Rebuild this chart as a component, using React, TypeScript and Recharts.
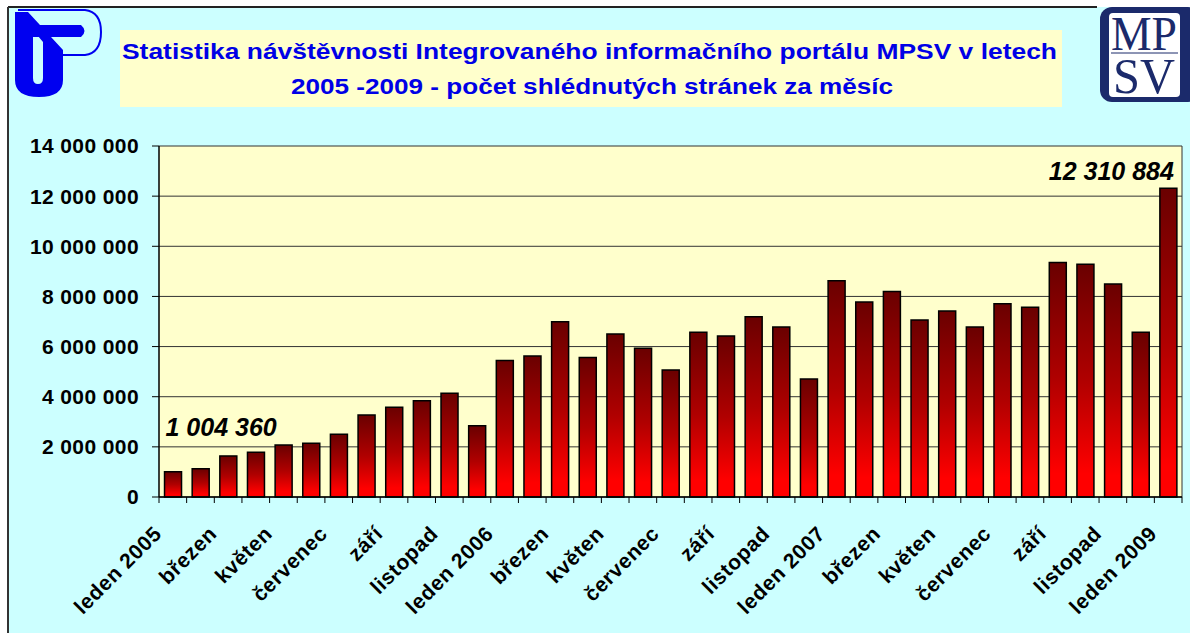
import { Bar, BarChart, CartesianGrid, LabelList, XAxis, YAxis } from "recharts";

const months = [
  "leden 2005", "únor", "březen", "duben", "květen", "červen", "červenec", "srpen", "září", "říjen", "listopad", "prosinec",
  "leden 2006", "únor", "březen", "duben", "květen", "červen", "červenec", "srpen", "září", "říjen", "listopad", "prosinec",
  "leden 2007", "únor", "březen", "duben", "květen", "červen", "červenec", "srpen", "září", "říjen", "listopad", "prosinec",
  "leden 2009",
];

const pageViews = [
  1004360, 1130000, 1640000, 1780000, 2070000, 2140000, 2500000, 3270000, 3580000, 3840000, 4140000, 2840000,
  5440000, 5620000, 6990000, 5560000, 6500000, 5930000, 5070000, 6570000, 6420000, 7190000, 6780000, 4710000,
  8630000, 7780000, 8200000, 7060000, 7420000, 6780000, 7710000, 7570000, 9350000, 9280000, 8500000, 6570000,
  12310884,
];

const yTicks = [0, 2000000, 4000000, 6000000, 8000000, 10000000, 12000000, 14000000];

const titleLines = [
  "Statistika návštěvnosti Integrovaného informačního portálu MPSV v letech",
  "2005 -2009 - počet shlédnutých stránek za měsíc",
];

const data = months.map((month, i) => ({ key: i, month, views: pageViews[i] }));

const W = 1190;
const H = 633;
const PLOT_LEFT = 159;
const PLOT_RIGHT = 8;
const BAND = (W - PLOT_LEFT - PLOT_RIGHT) / months.length;
const FONT = "'Liberation Sans', Arial, sans-serif";

const fmt = (v: number) => String(Math.round(v)).replace(/\B(?=(\d{3})+(?!\d))/g, " ");

function MonthTick({ x, y, payload }: any) {
  const i = payload.index;
  const tx = x - 10;
  const ty = y + 38;
  return (
    <g>
      <line x1={x - BAND / 2} y1={y} x2={x - BAND / 2} y2={y + 6} stroke="#000" />
      {i === months.length - 1 && (
        <line x1={x + BAND / 2} y1={y} x2={x + BAND / 2} y2={y + 6} stroke="#000" />
      )}
      {i % 2 === 0 && (
        <text
          x={tx}
          y={ty}
          textAnchor="end"
          transform={`rotate(-45, ${tx}, ${ty})`}
          fontSize={21}
          fontWeight="bold"
          fontFamily={FONT}
          letterSpacing={0.6}
          fill="#000"
        >
          {months[i]}
        </text>
      )}
    </g>
  );
}

function EdgeLabel(props: any) {
  const { x, y, width, index, value } = props;
  const style = { fontSize: 25, fontWeight: "bold", fontStyle: "italic", fontFamily: FONT };
  if (index === 0)
    return (
      <text x={x + 1} y={y - 36} fill="#000" style={style}>
        {fmt(value)}
      </text>
    );
  if (index === months.length - 1)
    return (
      <text x={x + width - 3} y={y - 8} textAnchor="end" fill="#000" style={style}>
        {fmt(value)}
      </text>
    );
  return null;
}

function Decor() {
  return (
    <svg width={W} height={H} style={{ position: "absolute", left: 0, top: 0 }}>
      <rect x={0} y={0} width={W} height={H} fill="#fff" />
      <rect x={8} y={7} width={W - 8} height={H - 7} fill="#CCFFFF" />
      <line x1={8} y1={7} x2={1097} y2={7} stroke="#222" strokeWidth={2} />
      <line x1={8} y1={7} x2={8} y2={H} stroke="#333" strokeWidth={2} />
      {/* IP logo */}
      <g fill="#0000F0">
        <path d="M15,12 L28,12 L63,50 L63,80 Q63,97 39,97 Q15,97 15,80 Z M33,30 L33,78 Q33,84 38,84 Q43,84 43,78 L43,42 Z" fillRule="evenodd" />
        <path d="M33,25 L81,25 Q88,31 81,37 L33,37 Z" />
        <path d="M18,10 L85,10 Q101,12 101,32 Q101,53 85,55 L62,55" fill="none" stroke="#0000F0" strokeWidth={2} />
      </g>
      {/* title */}
      <rect x={120} y={30} width={942} height={77} fill="#FFFFCC" />
      <text x={122} y={59} textLength={935} lengthAdjust="spacingAndGlyphs" fontSize={22} fontWeight="bold" fontFamily={FONT} fill="#0000E6">
        {titleLines[0]}
      </text>
      <text x={291} y={94} textLength={602} lengthAdjust="spacingAndGlyphs" fontSize={22} fontWeight="bold" fontFamily={FONT} fill="#0000E6">
        {titleLines[1]}
      </text>
      {/* MPSV logo */}
      <rect x={1100} y={7} width={100} height={95} rx={12} fill="#1B2A6B" />
      <rect x={1109} y={13} width={71} height={84} rx={4} fill="#fff" />
      <line x1={1111} y1={53} x2={1178} y2={53} stroke="#1B2A6B" strokeWidth={1} />
      <text fontFamily="'Liberation Serif', serif" fill="#1B2A6B">
        <tspan x={1111} y={50} fontSize={48} textLength={66} lengthAdjust="spacingAndGlyphs">
          MP
        </tspan>
        <tspan x={1113} y={93} fontSize={50} textLength={62} lengthAdjust="spacingAndGlyphs">
          SV
        </tspan>
      </text>
    </svg>
  );
}

export default function App() {
  return (
    <div style={{ position: "relative", width: W, height: H, overflow: "hidden" }}>
      <style>{"body{margin:0;overflow:hidden}"}</style>
      <Decor />
      <div style={{ position: "absolute", left: 0, top: 0 }}>
        <BarChart
          width={W}
          height={H}
          data={data}
          margin={{ top: 146, right: PLOT_RIGHT, bottom: 0, left: 0 }}
          barCategoryGap="20%"
        >
          <defs>
            <linearGradient id="barFill" x1="0" y1="0" x2="0" y2="1">
              <stop offset="0%" stopColor="#6A0000" />
              <stop offset="50%" stopColor="#B00000" />
              <stop offset="90%" stopColor="#FF0000" />
            </linearGradient>
          </defs>
          <CartesianGrid
            fill="#FFFFCC"
            fillOpacity={1}
            stroke="#333"
            verticalCoordinatesGenerator={({ offset }: any) => [offset.left + offset.width]}
          />
          <XAxis
            dataKey="key"
            height={136}
            interval={0}
            tickSize={0}
            tickMargin={0}
            tickLine={false}
            axisLine={{ stroke: "#000", strokeWidth: 1.5 }}
            tick={<MonthTick />}
          />
          <YAxis
            width={PLOT_LEFT}
            domain={[0, 14000000]}
            ticks={yTicks}
            interval={0}
            tickSize={7}
            tickMargin={13}
            tickFormatter={fmt}
            axisLine={{ stroke: "#000", strokeWidth: 1.5 }}
            tickLine={{ stroke: "#000" }}
            tick={{ fontSize: 21, fontWeight: "bold", fontFamily: FONT, fill: "#000", letterSpacing: 0.4 }}
          />
          <Bar dataKey="views" fill="url(#barFill)" stroke="#000" strokeWidth={1.5} isAnimationActive={false}>
            <LabelList dataKey="views" content={<EdgeLabel />} />
          </Bar>
        </BarChart>
      </div>
    </div>
  );
}
